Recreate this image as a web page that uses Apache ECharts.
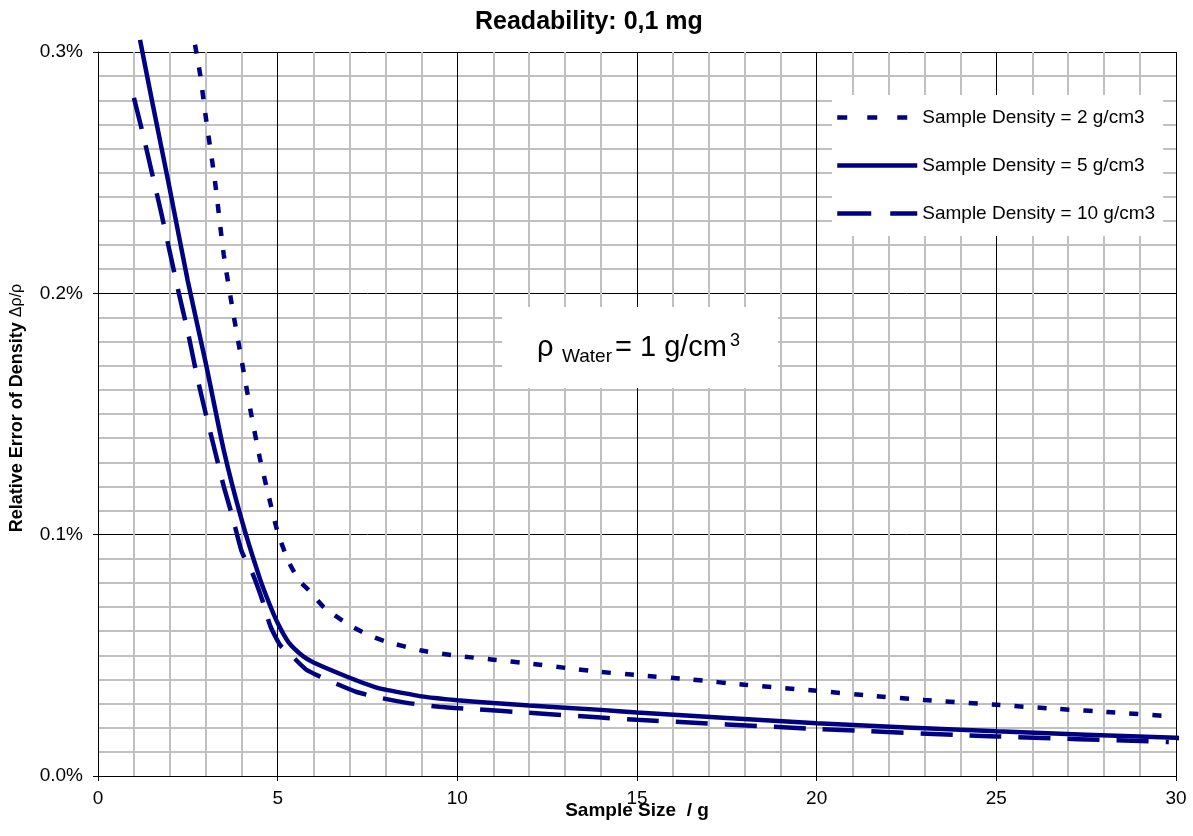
<!DOCTYPE html>
<html>
<head>
<meta charset="utf-8">
<title>Readability: 0,1 mg</title>
<script src="https://cdn.jsdelivr.net/npm/echarts@6/dist/echarts.min.js"></script>
<style>
    html, body { margin: 0; padding: 0; background: #fff; }
    #chart { width: 1193px; height: 836px; }
</style>
</head>
<body>
<div id="chart"></div>
<script>
// === DATA (sample size in g, relative error in %) ===
const seriesNames = [
    "Sample Density = 2 g/cm3",
    "Sample Density = 5 g/cm3",
    "Sample Density = 10 g/cm3",
];

const dens2X = [2.7, 2.85, 3.0, 3.25, 3.5, 3.75, 4.0, 4.25, 4.5, 4.75, 5.0, 5.3, 5.6, 5.9, 6.3, 7.0, 7.5, 8.0, 9.0, 10, 11, 12, 13, 14, 15, 16.5, 18, 20, 21.5, 23, 25, 26.7, 28.2, 29.9];
const dens2Y = [0.303, 0.29, 0.273, 0.247, 0.216, 0.193, 0.172, 0.151, 0.132, 0.116, 0.101, 0.089, 0.081, 0.0765, 0.0697, 0.0625, 0.0586, 0.0558, 0.052, 0.0498, 0.0482, 0.0466, 0.0448, 0.0431, 0.0418, 0.04, 0.0378, 0.0353, 0.0333, 0.0315, 0.0295, 0.0278, 0.0264, 0.0247];

const dens5X = [1.17, 1.5, 2.0, 2.5, 3.0, 3.5, 4.0, 4.5, 4.76, 5.0, 5.3, 5.7, 6.0, 7.0, 7.75, 8.0, 9.0, 10, 11, 12, 14, 15, 20, 25, 30, 30.2];
const dens5Y = [0.305, 0.28, 0.243, 0.205, 0.171, 0.135, 0.106, 0.082, 0.0717, 0.0634, 0.0555, 0.0497, 0.047, 0.0407, 0.0366, 0.0358, 0.033, 0.0314, 0.0302, 0.0292, 0.0274, 0.0263, 0.0219, 0.0185, 0.0158, 0.0155];

const dens10X = [1.0, 1.25, 1.5, 1.75, 2.0, 2.25, 2.5, 2.75, 3.0, 3.25, 3.5, 3.75, 4.0, 4.3, 4.57, 4.8, 5.08, 5.4, 5.8, 6.15, 6.8, 7.2, 7.85, 8.6, 9.5, 10.35, 12, 14, 15, 20, 25, 29.8];
const dens10Y = [0.281, 0.266, 0.25, 0.234, 0.217, 0.2, 0.184, 0.166, 0.15, 0.135, 0.12, 0.107, 0.093, 0.084, 0.073, 0.062, 0.054, 0.0497, 0.044, 0.0414, 0.0372, 0.0348, 0.0324, 0.0303, 0.0287, 0.0278, 0.0262, 0.0242, 0.0233, 0.0195, 0.0164, 0.0141];

const pairs = (xs, ys) => xs.map((x, i) => [x, ys[i]]);

const FONT = "'Liberation Sans', Arial, sans-serif";
const NAVY = "#000080";
const DOTTED = [9, 14];
const DASHED = [32, 17];

const chart = echarts.init(document.getElementById("chart"));

const lineSeries = (name, data, type) => ({
    name: name,
    type: "line",
    data: data,
    symbol: "none",
    smooth: 0.2,
    clip: false,
    lineStyle: { color: NAVY, width: 4.5, type: type, cap: "butt" },
    itemStyle: { color: NAVY },
});

const option = {
    animation: false,
    backgroundColor: "#fff",
    textStyle: { fontFamily: FONT },
    title: {
        text: "Readability: 0,1 mg",
        left: 470,
        top: 5,
        textStyle: { fontFamily: FONT, fontSize: 25, fontWeight: "bold", color: "#000" },
    },
    grid: { left: 98, right: 17, top: 52, bottom: 60 },
    legend: {
        orient: "vertical",
        left: 832,
        top: 95,
        data: [
            { name: seriesNames[0], lineStyle: { type: [10, 20] } },
            { name: seriesNames[1] },
            { name: seriesNames[2], lineStyle: { type: [34, 19] } },
        ],
        backgroundColor: "#fff",
        padding: [13, 8, 13, 3],
        itemWidth: 80,
        itemHeight: 14,
        itemGap: 29,
        itemStyle: { color: "rgba(0,0,0,0)", borderWidth: 0 },
        lineStyle: { width: 4.5, color: NAVY },
        textStyle: { fontFamily: FONT, fontSize: 19, color: "#000" },
    },
    xAxis: {
        type: "value",
        min: 0,
        max: 30,
        interval: 5,
        name: "Sample Size  / g",
        nameLocation: "middle",
        nameGap: 25,
        nameMoveOverlap: false,
        nameTextStyle: { fontFamily: FONT, fontSize: 19, fontWeight: "bold", color: "#000" },
        axisLine: { lineStyle: { color: "#000", width: 1 } },
        axisTick: { show: true, length: 5, lineStyle: { color: "#000" } },
        axisLabel: { fontFamily: FONT, fontSize: 19, color: "#000", margin: 13 },
        splitLine: { show: true, lineStyle: { color: "#000", width: 1 } },
        minorTick: { show: false, splitNumber: 5 },
        minorSplitLine: { show: true, lineStyle: { color: "#c0c0c0", width: 2 } },
    },
    yAxis: {
        type: "value",
        min: 0,
        max: 0.3,
        interval: 0.1,
        name: "{b|Relative Error of Density }{s|Δρ/ρ}",
        nameLocation: "middle",
        nameGap: 72,
        nameMoveOverlap: false,
        nameTextStyle: {
            padding: [0, 0, 0, 12],
            rich: {
                b: { fontFamily: FONT, fontSize: 18, fontWeight: "bold", color: "#000" },
                s: { fontFamily: FONT, fontSize: 16, color: "#000" },
            },
        },
        axisLine: { show: true, lineStyle: { color: "#000", width: 1 } },
        axisTick: { show: true, length: 5, lineStyle: { color: "#000" } },
        axisLabel: {
            fontFamily: FONT,
            fontSize: 19,
            color: "#000",
            margin: 15,
            formatter: (v) => v.toFixed(1) + "%",
        },
        splitLine: { show: true, lineStyle: { color: "#000", width: 1 } },
        minorTick: { show: false, splitNumber: 10 },
        minorSplitLine: { show: true, lineStyle: { color: "#c0c0c0", width: 2 } },
    },
    series: [
        lineSeries(seriesNames[0], pairs(dens2X, dens2Y), DOTTED),
        lineSeries(seriesNames[1], pairs(dens5X, dens5Y), "solid"),
        lineSeries(seriesNames[2], pairs(dens10X, dens10Y), DASHED),
    ],
    // water density note box
    graphic: [
        {
            type: "rect",
            left: 502,
            top: 307,
            shape: { width: 276, height: 81 },
            style: { fill: "#fff" },
            z: 10,
        },
        {
            type: "text",
            x: 537,
            y: 348,
            style: { text: "ρ", font: "29px " + FONT, fill: "#000", verticalAlign: "middle" },
            z: 11,
        },
        {
            type: "text",
            x: 562,
            y: 357,
            style: { text: "Water", font: "19px " + FONT, fill: "#000", verticalAlign: "middle" },
            z: 11,
        },
        {
            type: "text",
            x: 615,
            y: 348,
            style: { text: "= 1 g/cm", font: "29px " + FONT, fill: "#000", verticalAlign: "middle" },
            z: 11,
        },
        {
            type: "text",
            x: 730,
            y: 341,
            style: { text: "3", font: "18px " + FONT, fill: "#000", verticalAlign: "middle" },
            z: 11,
        },
    ],
};

chart.setOption(option);

window.addEventListener("resize", () => chart.resize());
</script>
</body>
</html>
